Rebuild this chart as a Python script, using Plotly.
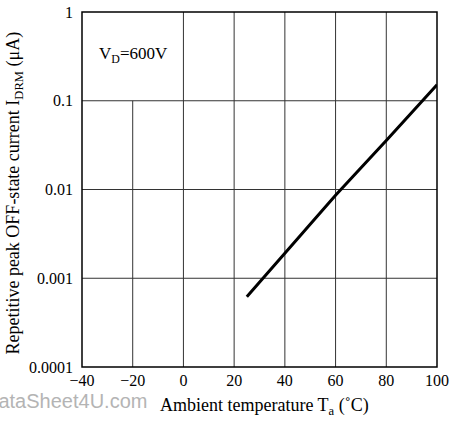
import plotly.graph_objects as go

temp_c = [25, 40, 60, 80, 100]
idrm_ua = [0.00062, 0.0019, 0.0086, 0.0357, 0.151]

x_ticks = [-40, -20, 0, 20, 40, 60, 80, 100]
x_tick_text = ["\u221240", "\u221220", "0", "20", "40", "60", "80", "100"]
y_ticks = [0.0001, 0.001, 0.01, 0.1, 1]
y_tick_text = ["0.0001", "0.001", "0.01", "0.1", "1"]

FONT = "Liberation Serif, Times New Roman, serif"

fig = go.Figure()
fig.add_trace(go.Scatter(x=temp_c, y=idrm_ua, mode="lines",
                         line=dict(color="black", width=3), showlegend=False))

shapes = []
# vertical gridlines (the one at -20 stops at 0.1 to leave room for the label)
for xv in x_ticks[1:-1]:
    top = 0.1 if xv == -20 else 1
    shapes.append(dict(type="line", xref="x", yref="y", x0=xv, x1=xv, y0=0.0001, y1=top,
                       line=dict(color="#333", width=1), layer="below"))
for yv in y_ticks[1:-1]:
    shapes.append(dict(type="line", xref="x", yref="y", x0=-40, x1=100, y0=yv, y1=yv,
                       line=dict(color="#333", width=1), layer="below"))
shapes.append(dict(type="rect", xref="paper", yref="paper", x0=0, x1=1, y0=0, y1=1,
                   line=dict(color="black", width=1.5)))

fig.update_layout(
    width=451, height=426,
    margin=dict(l=82, r=14, t=12, b=59),
    paper_bgcolor="white", plot_bgcolor="white",
    font=dict(family=FONT, color="black", size=16),
    shapes=shapes,
    xaxis=dict(range=[-40, 100], tickvals=x_ticks, ticktext=x_tick_text,
               showgrid=False, zeroline=False, showline=False, ticks="",
               automargin=False, tickfont=dict(size=16, family=FONT), ticklabelstandoff=2),
    yaxis=dict(type="log", range=[-4, 0], tickvals=y_ticks, ticktext=y_tick_text,
               showgrid=False, zeroline=False, showline=False, ticks="",
               automargin=False, tickfont=dict(size=16, family=FONT), ticklabelstandoff=8),
    annotations=[
        dict(text="V<sub>D</sub>=600V", xref="paper", yref="paper", x=0.042, y=0.879,
             xanchor="left", yanchor="middle", showarrow=False, font=dict(size=17, family=FONT)),
        dict(text="Ambient temperature T<sub>a</sub> (\u02daC)", xref="paper", yref="paper",
             x=0.513, y=-0.11, xanchor="center", yanchor="middle", showarrow=False,
             font=dict(size=18, family=FONT)),
        dict(text="Repetitive peak OFF-state current I<sub>DRM</sub> (\u03bcA)", xref="paper",
             yref="paper", x=-0.19, y=0.49, xanchor="center", yanchor="middle", textangle=-90,
             showarrow=False, font=dict(size=18, family=FONT)),
        dict(text="DataSheet4U.com", xref="paper", yref="paper", x=-0.282, y=-0.097,
             xanchor="left", yanchor="middle", showarrow=False,
             font=dict(size=20, family="Liberation Sans, Arial, sans-serif", color="#b4b4b4")),
    ],
)

fig.write_html("out.html", config={"displayModeBar": False},
               post_script="document.body.style.margin='0';document.body.style.overflow='hidden';")
